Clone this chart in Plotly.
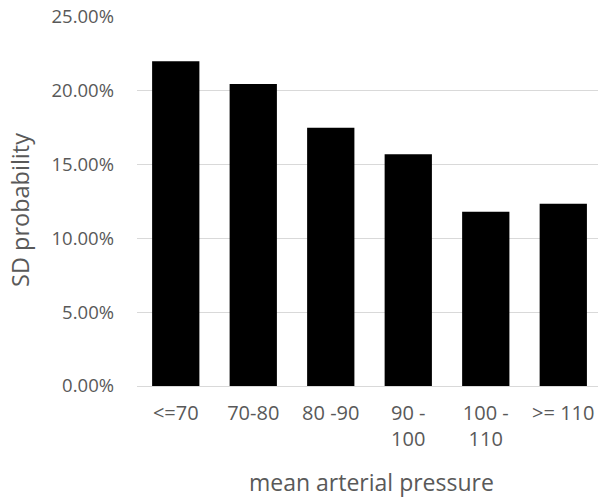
import plotly.graph_objects as go

# Mean arterial pressure bands and SD probability per band
categories = ["<=70", "70-80", "80 -90", "90 -<br>100", "100 -<br>110", ">= 110"]
sd_probability = [0.2201, 0.2046, 0.1749, 0.1570, 0.1181, 0.1235]
y_ticks = [0.0, 0.05, 0.10, 0.15, 0.20, 0.25]

FONT = "Open Sans"
GREY = "#595959"

# plot area in pixels: left 137, top 17, bottom 386
PLOT_W = 598 - 137
PLOT_H = 386 - 17

fig = go.Figure(
    go.Bar(
        x=list(range(len(categories))),
        y=sd_probability,
        width=0.61,
        marker=dict(color="#000000", line=dict(width=0)),
        hoverinfo="skip",
    )
)

fig.update_layout(
    width=598,
    height=499,
    margin=dict(l=137, r=0, t=17, b=113),
    paper_bgcolor="white",
    plot_bgcolor="white",
    showlegend=False,
    font=dict(family=FONT, size=18, color=GREY),
    xaxis=dict(
        tickmode="array",
        tickvals=list(range(len(categories))),
        ticktext=categories,
        range=[-0.5, 5.448],
        showgrid=False,
        zeroline=False,
        showline=False,
        ticks="",
        ticklabelstandoff=13,
        tickfont=dict(family=FONT, size=20, color=GREY),
    ),
    yaxis=dict(
        range=[0, 0.25],
        tickvals=y_ticks,
        tickformat=".2%",
        showgrid=True,
        gridcolor="#d9d9d9",
        gridwidth=1,
        zeroline=True,
        zerolinecolor="#d9d9d9",
        zerolinewidth=1,
        showline=False,
        ticks="",
        ticklabelstandoff=22,
        tickfont=dict(family=FONT, size=18.5, color=GREY),
    ),
    annotations=[
        dict(
            text="SD probability",
            xref="paper", yref="paper",
            x=(20 - 137) / PLOT_W, y=(386 - 210) / PLOT_H,
            xanchor="center", yanchor="middle",
            textangle=-90, showarrow=False,
            font=dict(family=FONT, size=23.5, color=GREY),
        ),
        dict(
            text="mean arterial pressure",
            xref="paper", yref="paper",
            x=(371 - 137) / PLOT_W, y=-(482 - 386) / PLOT_H,
            xanchor="center", yanchor="middle",
            showarrow=False,
            font=dict(family=FONT, size=23, color=GREY),
        ),
    ],
)

fig.write_html("out.html")
